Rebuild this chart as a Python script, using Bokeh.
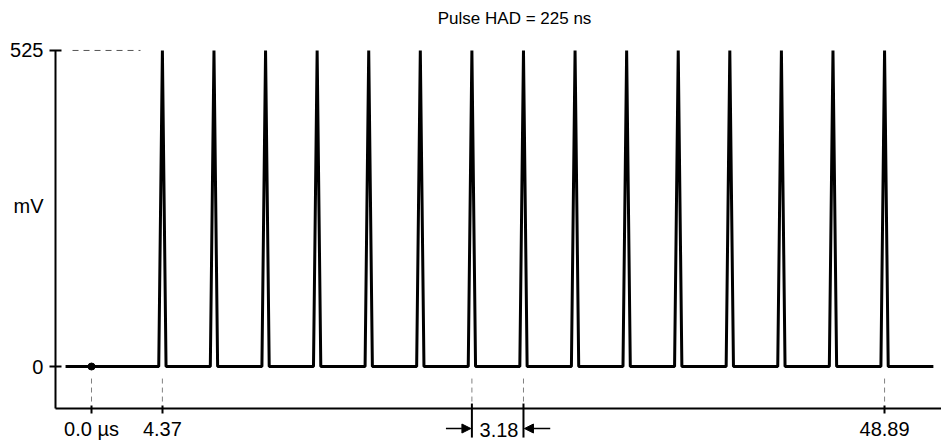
from bokeh.plotting import figure
from bokeh.models import (FixedTicker, Range1d, Label, Arrow, NormalHead)
from bokeh.embed import file_html
from bokeh.resources import INLINE

# ---- data ----
pulse_centers_us = [4.37, 7.55, 10.73, 13.91, 17.09, 20.27, 23.45, 26.63,
                    29.81, 32.99, 36.17, 39.35, 42.53, 45.71, 48.89]
pulse_peak_mv = 525
pulse_had_us = 0.225
signal_start_us = -1.6
signal_end_us = 51.9
origin_us = 0.0

x_tick_values = [0.0, 4.37, 48.89]
x_tick_labels = ["0.0 \u00b5s", "4.37", "48.89"]
period_marks_us = [23.45, 26.63]
period_label = "3.18"
y_tick_values = [0, 525]
y_unit_label = "mV"
title_text = "Pulse HAD = 225 ns"

# ---- build the pulse train polyline ----
sig_x = [signal_start_us]
sig_y = [0]
for c in pulse_centers_us:
    sig_x += [c - pulse_had_us, c, c + pulse_had_us]
    sig_y += [0, pulse_peak_mv, 0]
sig_x.append(signal_end_us)
sig_y.append(0)

FONT = "Liberation Sans"

# ranges / axis placement (data units)
x_lo, x_hi = -5.61, 52.40
y_lo, y_hi = -131.2, 608.0
x_axis_at = -69.8      # value where the time axis sits
y_axis_at = -2.22      # time where the mV axis sits

p = figure(width=941, height=445, output_backend="svg", toolbar_location=None,
           x_range=Range1d(x_lo, x_hi), y_range=Range1d(y_lo, y_hi),
           min_border=0, min_border_left=0, min_border_right=0,
           min_border_top=0, min_border_bottom=0)
p.outline_line_color = None
p.xgrid.visible = False
p.ygrid.visible = False
p.background_fill_color = "white"
p.border_fill_color = "white"

# x axis
xa = p.xaxis[0]
xa.fixed_location = x_axis_at
xa.bounds = (y_axis_at, x_hi)
xa.ticker = FixedTicker(ticks=x_tick_values, minor_ticks=[])
xa.major_label_overrides = {v: t for v, t in zip(x_tick_values, x_tick_labels)}
xa.axis_line_width = 2
xa.axis_line_color = "black"
xa.major_tick_line_width = 2
xa.major_tick_line_color = "black"
xa.major_tick_in = 3
xa.major_tick_out = 5
xa.minor_tick_line_color = None
xa.major_label_standoff = 4
xa.major_label_text_font = FONT
xa.major_label_text_font_size = "20px"
xa.major_label_text_color = "black"

# y axis
ya = p.yaxis[0]
ya.fixed_location = y_axis_at
ya.bounds = (x_axis_at, pulse_peak_mv)
ya.ticker = FixedTicker(ticks=y_tick_values, minor_ticks=[])
ya.axis_line_width = 2
ya.axis_line_color = "black"
ya.major_tick_line_width = 2
ya.major_tick_line_color = "black"
ya.major_tick_in = 6
ya.major_tick_out = 6
ya.minor_tick_line_color = None
ya.major_label_standoff = 6
ya.major_label_text_font = FONT
ya.major_label_text_font_size = "20px"
ya.major_label_text_color = "black"

# guides
p.line(x=[-1.17, 3.02], y=[pulse_peak_mv, pulse_peak_mv], line_color="#555555",
       line_width=1, line_dash="6 5")
for xv in x_tick_values + period_marks_us:
    p.line(x=[xv, xv], y=[-20, -61.5], line_color="#808080", line_width=1,
           line_dash="5 4")
# long period marks crossing the time axis
for xv in period_marks_us:
    p.line(x=[xv, xv], y=[-61.5, -118], line_color="black", line_width=2)

# signal
p.line(x=sig_x, y=sig_y, line_color="black", line_width=3, line_join="bevel")
p.scatter(x=[origin_us], y=[0], size=7, color="black")

# title
p.add_layout(Label(x=26.08, y=578, text=title_text, text_align="center",
                   text_baseline="middle", text_font=FONT,
                   text_font_size="17px", text_color="black"))

# unit label
p.add_layout(Label(x=-2.96, y=267, text=y_unit_label,
                   text_align="right", text_baseline="middle", text_font=FONT,
                   text_font_size="20px", text_color="black"))

# period annotation
mid = (period_marks_us[0] + period_marks_us[1]) / 2
p.add_layout(Label(x=mid + 0.08, y=-105, text=period_label, text_align="center",
                   text_baseline="middle", text_font=FONT,
                   text_font_size="20px", text_color="black"))
p.add_layout(Arrow(end=NormalHead(size=9, fill_color="black", line_color="black"),
                   x_start=period_marks_us[0] - 1.6, y_start=-103,
                   x_end=period_marks_us[0] - 0.06, y_end=-103,
                   line_color="black", line_width=1.5))
p.add_layout(Arrow(end=NormalHead(size=9, fill_color="black", line_color="black"),
                   x_start=period_marks_us[1] + 1.65, y_start=-103,
                   x_end=period_marks_us[1] + 0.06, y_end=-103,
                   line_color="black", line_width=1.5))

open("out.html", "w").write(file_html(p, INLINE))
